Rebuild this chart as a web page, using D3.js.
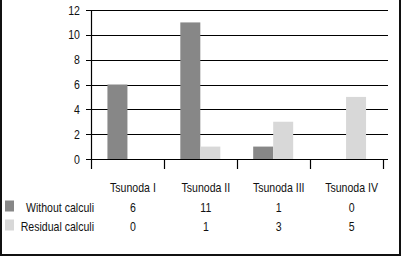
<!DOCTYPE html>
<html><head><meta charset="utf-8">
<script src="https://cdn.jsdelivr.net/npm/d3@7"></script>
<style>html,body{margin:0;padding:0;background:#fff;}svg{display:block;}</style>
</head><body>
<svg id="c" width="402" height="257"></svg>
<script>
const categories = ["Tsunoda I", "Tsunoda II", "Tsunoda III", "Tsunoda IV"];
const seriesNames = ["Without calculi", "Residual calculi"];
const withoutCalculi = [6, 11, 1, 0];
const residualCalculi = [0, 1, 3, 5];
const yTicks = [0, 2, 4, 6, 8, 10, 12];
const colors = ["#878787", "#d8d8d8"];

const svg = d3.select("#c");
const font = "'Liberation Sans', Arial, sans-serif";
const fs = "12px";
const sx = 0.88;

const x = d3.scaleBand().domain(categories).range([91, 382.5]);
const y = d3.scaleLinear().domain([0, 12]).range([159, 10]);
const barW = 20;

// outer border
svg.append("path").attr("d", "M1,0 V255 H400 V0")
  .attr("fill", "none").attr("stroke", "#111").attr("stroke-width", 2);

// gridlines
svg.append("g").selectAll("line").data(yTicks).join("line")
  .attr("x1", 86).attr("x2", 388)
  .attr("y1", d => Math.round(y(d)) + 0.5).attr("y2", d => Math.round(y(d)) + 0.5)
  .attr("stroke", "#000").attr("stroke-width", 1.2);

// y axis line
svg.append("line").attr("x1", 91.5).attr("x2", 91.5).attr("y1", y(12)).attr("y2", 169)
  .attr("stroke", "#000").attr("stroke-width", 1.2);

// category separator ticks
svg.append("g").selectAll("line").data(categories.slice(1)).join("line")
  .attr("x1", d => Math.round(x(d)) + 0.5).attr("x2", d => Math.round(x(d)) + 0.5)
  .attr("y1", 159).attr("y2", 169).attr("stroke", "#000").attr("stroke-width", 1.2);
svg.append("line").attr("x1", Math.round(x.range()[1]) + 0.5).attr("x2", Math.round(x.range()[1]) + 0.5)
  .attr("y1", 159).attr("y2", 169).attr("stroke", "#000").attr("stroke-width", 1.2);

// y tick labels
svg.append("g").selectAll("text").data(yTicks).join("text")
  .attr("transform", d => `translate(80,${y(d) + 4.5}) scale(${sx},1)`)
  .attr("text-anchor", "end")
  .attr("font-family", font).attr("font-size", "12px").attr("fill", "#111")
  .text(d => d);

// bars
const series = [withoutCalculi, residualCalculi];
series.forEach((vals, si) => {
  svg.append("g").selectAll("rect").data(categories).join("rect")
    .attr("x", d => x(d) + x.bandwidth() / 2 - barW + si * barW)
    .attr("width", barW)
    .attr("y", (d, i) => y(vals[i]))
    .attr("height", (d, i) => y(0) - y(vals[i]))
    .attr("fill", colors[si]);
});

// redraw baseline on top
svg.append("line").attr("x1", 86).attr("x2", 388).attr("y1", Math.round(y(0)) + 0.5).attr("y2", Math.round(y(0)) + 0.5)
  .attr("stroke", "#000").attr("stroke-width", 1.2);

const textOff = 5.5;
// category labels
svg.append("g").selectAll("text").data(categories).join("text")
  .attr("transform", d => `translate(${x(d) + x.bandwidth() / 2 + textOff},192) scale(${sx},1)`)
  .attr("text-anchor", "middle").attr("font-family", font).attr("font-size", fs).attr("fill", "#111")
  .text(d => d);

// table rows
const rowY = [212, 231];
series.forEach((vals, si) => {
  svg.append("rect").attr("x", 5).attr("y", rowY[si] - 11.5).attr("width", 9).attr("height", 11)
    .attr("fill", colors[si]);
  svg.append("text").attr("transform", `translate(94,${rowY[si]}) scale(${sx},1)`).attr("text-anchor", "end")
    .attr("font-family", font).attr("font-size", fs).attr("fill", "#111").text(seriesNames[si]);
  svg.append("g").selectAll("text").data(categories).join("text")
    .attr("transform", d => `translate(${x(d) + x.bandwidth() / 2 + textOff},${rowY[si]}) scale(${sx},1)`)
    .attr("text-anchor", "middle").attr("font-family", font).attr("font-size", fs).attr("fill", "#111")
    .text((d, i) => vals[i]);
});
</script>
</body></html>
